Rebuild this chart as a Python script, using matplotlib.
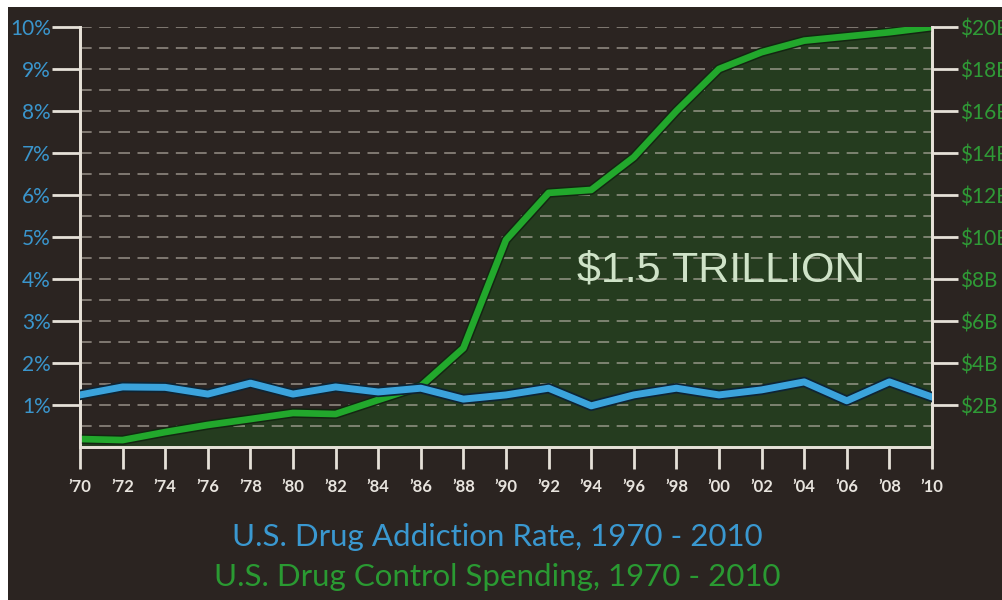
import matplotlib.pyplot as plt
import matplotlib.patheffects as pe
from matplotlib.patches import Rectangle
from matplotlib.ticker import MultipleLocator

# data
years = [1970, 1972, 1974, 1976, 1978, 1980, 1982, 1984, 1986, 1988,
         1990, 1992, 1994, 1996, 1998, 2000, 2002, 2004, 2006, 2008, 2010]
addiction_rate = [1.24, 1.43, 1.42, 1.26, 1.52, 1.26, 1.43, 1.31, 1.40, 1.14,
                  1.24, 1.40, 0.98, 1.24, 1.40, 1.24, 1.36, 1.55, 1.10, 1.55, 1.19]
spending_bn = [0.38, 0.33, 0.71, 1.05, 1.33, 1.62, 1.57, 2.24, 2.9, 4.71,
               9.86, 12.1, 12.24, 13.8, 16.0, 18.0, 18.8, 19.35, 19.55, 19.75, 20.0]

pct_ticks = [1, 2, 3, 4, 5, 6, 7, 8, 9, 10]
pct_labels = [f"{t}%" for t in pct_ticks]
bn_ticks = [2, 4, 6, 8, 10, 12, 14, 16, 18, 20]
bn_labels = [f"${t}B" for t in bn_ticks]
year_ticks = list(range(1970, 2011, 2))
year_labels = ["\u2019" + str(y)[2:] for y in year_ticks]

BG = '#2b2421'
FILL = '#253c1f'
BLUE = '#3ba3dc'
GREEN = '#22a82c'
AXIS = '#e6e1d8'
GRID = '#c2bbb1'

fig = plt.figure(figsize=(10.02, 6.0), dpi=100, facecolor='white')
# dark card with a thin white margin at top and left
fig.patches.append(Rectangle((8 / 1002, 0), 1, 1 - 7 / 600, transform=fig.transFigure,
                             facecolor=BG, edgecolor='none', zorder=-10))

ax = fig.add_axes([80 / 1002, 1 - 447 / 600, 852 / 1002, 420 / 600])
ax2 = ax.twinx()
ax.set_zorder(ax2.get_zorder() + 1)
ax.patch.set_visible(False)
ax2.patch.set_visible(False)

# spending: fill + line on the right axis
ax2.fill_between(years, spending_bn, 0, color=FILL, zorder=1, linewidth=0)
ax2.yaxis.set_minor_locator(MultipleLocator(1))
ax2.grid(True, which='both', axis='y', color=GRID, alpha=0.65, linewidth=1.2,
         dashes=(7, 4.5), zorder=2)
ax2.set_axisbelow(False)
ax2.plot(years, spending_bn, color=GREEN, lw=4.8, solid_joinstyle='round', zorder=3,
         path_effects=[pe.Stroke(linewidth=7, foreground='#142612'), pe.Normal()])

# addiction rate on the left axis
ax.plot(years, addiction_rate, color=BLUE, lw=5, solid_joinstyle='round', zorder=4,
        path_effects=[pe.Stroke(linewidth=7.5, foreground='#0e2434'), pe.Normal()])

ax.set_xlim(1970, 2010)
ax.set_ylim(0, 10)
ax2.set_ylim(0, 20)

for a in (ax, ax2):
    for s in a.spines.values():
        s.set_color(AXIS)
        s.set_linewidth(2)
    a.spines['top'].set_visible(False)

ax.set_yticks(pct_ticks)
ax.set_yticklabels(pct_labels, color='#3a95cc', fontsize=15, family='Lato')
ax.tick_params(axis='y', length=20, width=2, color=AXIS, pad=1)
ax2.set_yticks(bn_ticks)
ax2.set_yticklabels(bn_labels, color='#2f9a36', fontsize=15, family='Lato')
ax2.tick_params(axis='y', which='major', length=19, width=2, color=AXIS, pad=1)
ax2.tick_params(axis='y', which='minor', length=0)

ax.set_xticks(year_ticks)
ax.set_xticklabels(year_labels, color='#e8e4de', fontsize=12, family='Lato',
                   fontweight='bold')
ax.tick_params(axis='x', length=16, width=2, color=AXIS, pad=7)

ax.text(2000.1, 4.2, "$1.5 TRILLION", color='#cfe3c8', fontsize=31,
        family='Liberation Sans', ha='center', va='center', zorder=5)

fig.text(497 / 1002, 1 - 537 / 600, "U.S. Drug Addiction Rate, 1970 - 2010",
         color='#3a98d0', fontsize=22.5, family='Lato', ha='center', va='center')
fig.text(497 / 1002, 1 - 577 / 600, "U.S. Drug Control Spending, 1970 - 2010",
         color='#2a9a32', fontsize=22.5, family='Lato', ha='center', va='center')

fig.savefig('out.png', dpi=100, facecolor=fig.get_facecolor())
